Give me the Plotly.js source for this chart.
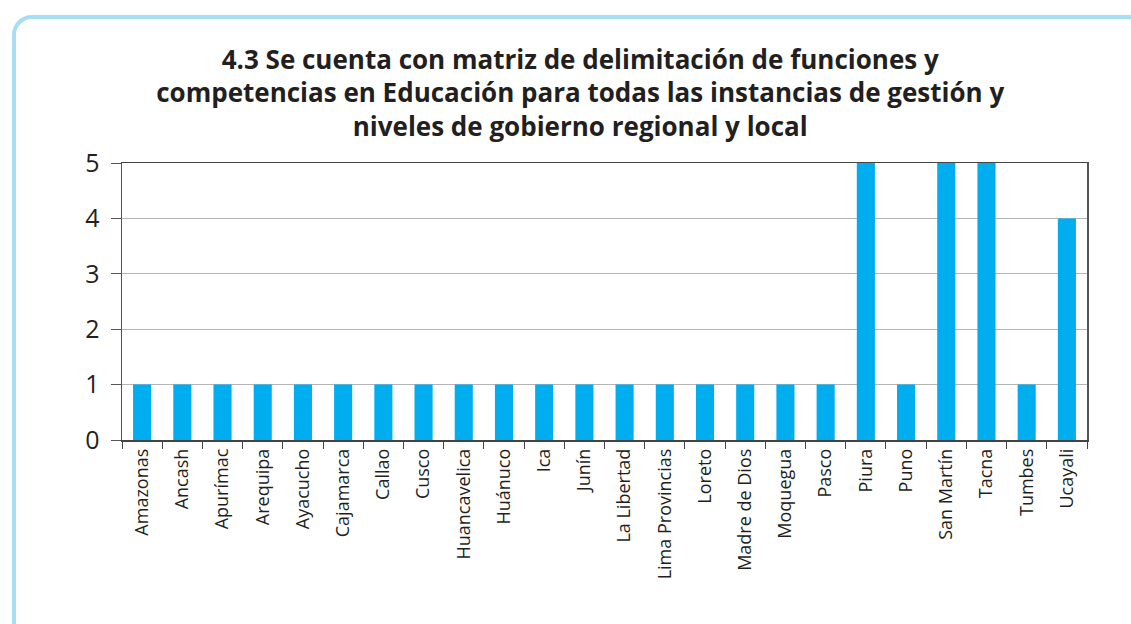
<!DOCTYPE html>
<html>
<head>
<meta charset="utf-8">
<script src="https://cdn.plot.ly/plotly-3.0.1.min.js"></script>
<style>
html,body{margin:0;padding:0;background:#fff;overflow:hidden;}
#frame{position:absolute;left:12px;top:15px;width:1200px;height:700px;border:4px solid #A8DDF6;border-radius:20px;box-sizing:border-box;}
#chart{position:absolute;left:0;top:0;width:1131px;height:624px;}
</style>
</head>
<body>
<div id="frame"></div>
<div id="chart"></div>
<script>
var categories = ["Amazonas","Ancash","Apurímac","Arequipa","Ayacucho","Cajamarca","Callao","Cusco","Huancavelica","Huánuco","Ica","Junín","La Libertad","Lima Provincias","Loreto","Madre de Dios","Moquegua","Pasco","Piura","Puno","San Martín","Tacna","Tumbes","Ucayali"];
var values = [1,1,1,1,1,1,1,1,1,1,1,1,1,1,1,1,1,1,5,1,5,5,1,4];
var yTicks = [0,1,2,3,4,5];
var titleText = "4.3 Se cuenta con matriz de delimitación de funciones y<br>competencias en Educación para todas las instancias de gestión y<br>niveles de gobierno regional y local";

var trace = {
  type: 'bar',
  x: categories,
  y: values,
  marker: {color: '#00ADEF'},
  hoverinfo: 'x+y'
};

var layout = {
  width: 1131,
  height: 624,
  paper_bgcolor: 'rgba(0,0,0,0)',
  plot_bgcolor: 'rgba(0,0,0,0)',
  margin: {l: 122, r: 44, t: 163, b: 184},
  bargap: 0.55,
  showlegend: false,
  font: {family: 'Open Sans, sans-serif', color: '#231f20'},
  title: {
    text: titleText,
    font: {family: 'Open Sans, sans-serif', size: 26, color: '#231f20', weight: 'bold'},
    xref: 'container', x: 0.513, xanchor: 'center',
    yref: 'container', y: 0.89, yanchor: 'top'
  },
  xaxis: {
    type: 'category',
    tickangle: -90,
    tickson: 'boundaries',
    ticks: 'outside',
    ticklen: 7,
    tickcolor: '#444',
    showline: true,
    linecolor: '#444',
    linewidth: 1.5,
    mirror: true,
    showgrid: false,
    tickfont: {family: 'Open Sans, sans-serif', size: 18, color: '#231f20'}
  },
  yaxis: {
    range: [0, 5],
    tickvals: yTicks,
    ticktext: yTicks.map(String),
    ticks: 'outside',
    ticklen: 10,
    tickcolor: '#555',
    showline: true,
    linecolor: '#555',
    linewidth: 1.5,
    mirror: true,
    showgrid: true,
    gridcolor: '#b5b5b5',
    gridwidth: 1,
    zeroline: false,
    ticklabelstandoff: 6,
    tickfont: {family: 'Open Sans, sans-serif', size: 25, color: '#231f20'}
  }
};

Plotly.newPlot('chart', [trace], layout, {displayModeBar: false, staticPlot: true});
</script>
</body>
</html>
